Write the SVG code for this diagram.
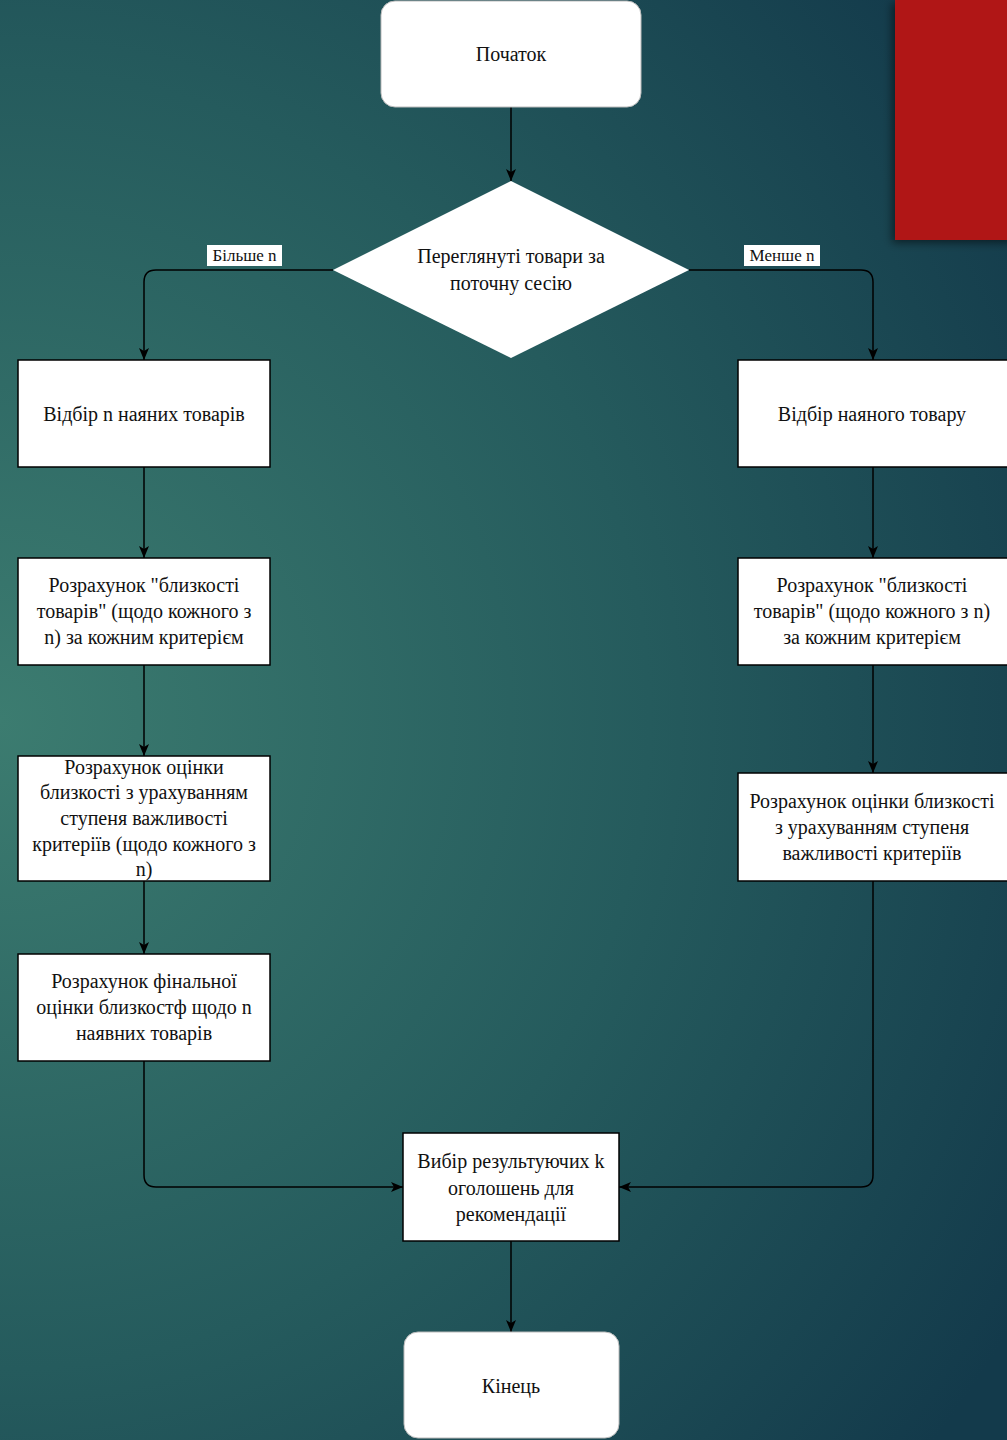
<svg xmlns="http://www.w3.org/2000/svg" width="1007" height="1440" viewBox="0 0 1007 1440">
<defs>
<radialGradient id="bg" gradientUnits="userSpaceOnUse" cx="0" cy="720" r="1180">
<stop offset="0" stop-color="#3c7c70"/>
<stop offset="0.55" stop-color="#255b5d"/>
<stop offset="1" stop-color="#133a4b"/>
</radialGradient>
<filter id="sh" x="-20%" y="-20%" width="140%" height="140%">
<feDropShadow dx="-3" dy="3" stdDeviation="4" flood-color="#000" flood-opacity="0.5"/>
</filter>
<marker id="arr" markerUnits="userSpaceOnUse" markerWidth="12" markerHeight="12" viewBox="0 0 12 12" refX="12" refY="6" orient="auto">
<path d="M0,1 L12,6 L0,11 L3,6 z" fill="#000"/>
</marker>
<style>
.box{fill:#fff;stroke:#000;stroke-width:1.5}
.term{fill:#fff;stroke:#bbb;stroke-width:1}
.t{font-family:'Liberation Serif','DejaVu Serif',serif;font-size:20px;fill:#111;text-anchor:middle}
.lbl{font-family:'Liberation Serif','DejaVu Serif',serif;font-size:17px;fill:#111;text-anchor:middle}
.c{fill:none;stroke:#000;stroke-width:1.5;marker-end:url(#arr)}
</style>
</defs>
<rect x="0" y="0" width="1007" height="1440" fill="url(#bg)"/>
<rect x="895" y="0" width="120" height="240" fill="#b01715" filter="url(#sh)"/>

<g id="connectors">
<path class="c" d="M511,107 V181"/>
<path class="c" d="M333,270 H156 Q144,270 144,282 V360"/>
<path class="c" d="M689,270 H861 Q873,270 873,282 V360"/>
<path class="c" d="M144,467 V558"/>
<path class="c" d="M144,665 V756"/>
<path class="c" d="M144,881 V954"/>
<path class="c" d="M873,467 V558"/>
<path class="c" d="M873,665 V773"/>
<path class="c" d="M144,1061 V1175 Q144,1187 156,1187 H403"/>
<path class="c" d="M873,881 V1175 Q873,1187 861,1187 H619"/>
<path class="c" d="M511,1241 V1332"/>
<rect x="207" y="245" width="75" height="21" fill="#fff"/>
<text class="lbl" x="244.5" y="261">Більше n</text>
<rect x="744" y="245" width="76" height="21" fill="#fff"/>
<text class="lbl" x="782" y="261">Менше n</text>
</g>

<g id="start">
<rect class="term" x="381" y="1" width="260" height="106" rx="14"/>
<text class="t" x="511" y="61">Початок</text>
</g>

<g id="decision">
<polygon points="511,181 689,270 511,358 333,270" fill="#fff"/>
<text class="t" x="511" y="263">Переглянуті товари за</text>
<text class="t" x="511" y="290">поточну сесію</text>
</g>

<g id="left1">
<rect class="box" x="18" y="360" width="252" height="107"/>
<text class="t" x="144" y="421">Відбір n наяних товарів</text>
</g>
<g id="left2">
<rect class="box" x="18" y="558" width="252" height="107"/>
<text class="t" x="144" y="592">Розрахунок "близкості</text>
<text class="t" x="144" y="618">товарів" (щодо кожного з</text>
<text class="t" x="144" y="644">n) за кожним критерієм</text>
</g>
<g id="left3">
<rect class="box" x="18" y="756" width="252" height="125"/>
<text class="t" x="144" y="774">Розрахунок оцінки</text>
<text class="t" x="144" y="799">близкості з урахуванням</text>
<text class="t" x="144" y="825">ступеня важливості</text>
<text class="t" x="144" y="851">критеріїв (щодо кожного з</text>
<text class="t" x="144" y="876">n)</text>
</g>
<g id="left4">
<rect class="box" x="18" y="954" width="252" height="107"/>
<text class="t" x="144" y="988">Розрахунок фінальної</text>
<text class="t" x="144" y="1014">оцінки близкостф щодо n</text>
<text class="t" x="144" y="1040">наявних товарів</text>
</g>

<g id="right1">
<rect class="box" x="738" y="360" width="272" height="107"/>
<text class="t" x="872" y="421">Відбір наяного товару</text>
</g>
<g id="right2">
<rect class="box" x="738" y="558" width="272" height="107"/>
<text class="t" x="872" y="592">Розрахунок "близкості</text>
<text class="t" x="872" y="618">товарів" (щодо кожного з n)</text>
<text class="t" x="872" y="644">за кожним критерієм</text>
</g>
<g id="right3">
<rect class="box" x="738" y="773" width="272" height="108"/>
<text class="t" x="872" y="808">Розрахунок оцінки близкості</text>
<text class="t" x="872" y="834">з урахуванням ступеня</text>
<text class="t" x="872" y="860">важливості критеріїв</text>
</g>

<g id="select">
<rect class="box" x="403" y="1133" width="216" height="108"/>
<text class="t" x="511" y="1168">Вибір результуючих k</text>
<text class="t" x="511" y="1195">оголошень для</text>
<text class="t" x="511" y="1221">рекомендації</text>
</g>

<g id="end">
<rect class="term" x="404" y="1332" width="215" height="106" rx="14"/>
<text class="t" x="511" y="1393">Кінець</text>
</g>
</svg>
